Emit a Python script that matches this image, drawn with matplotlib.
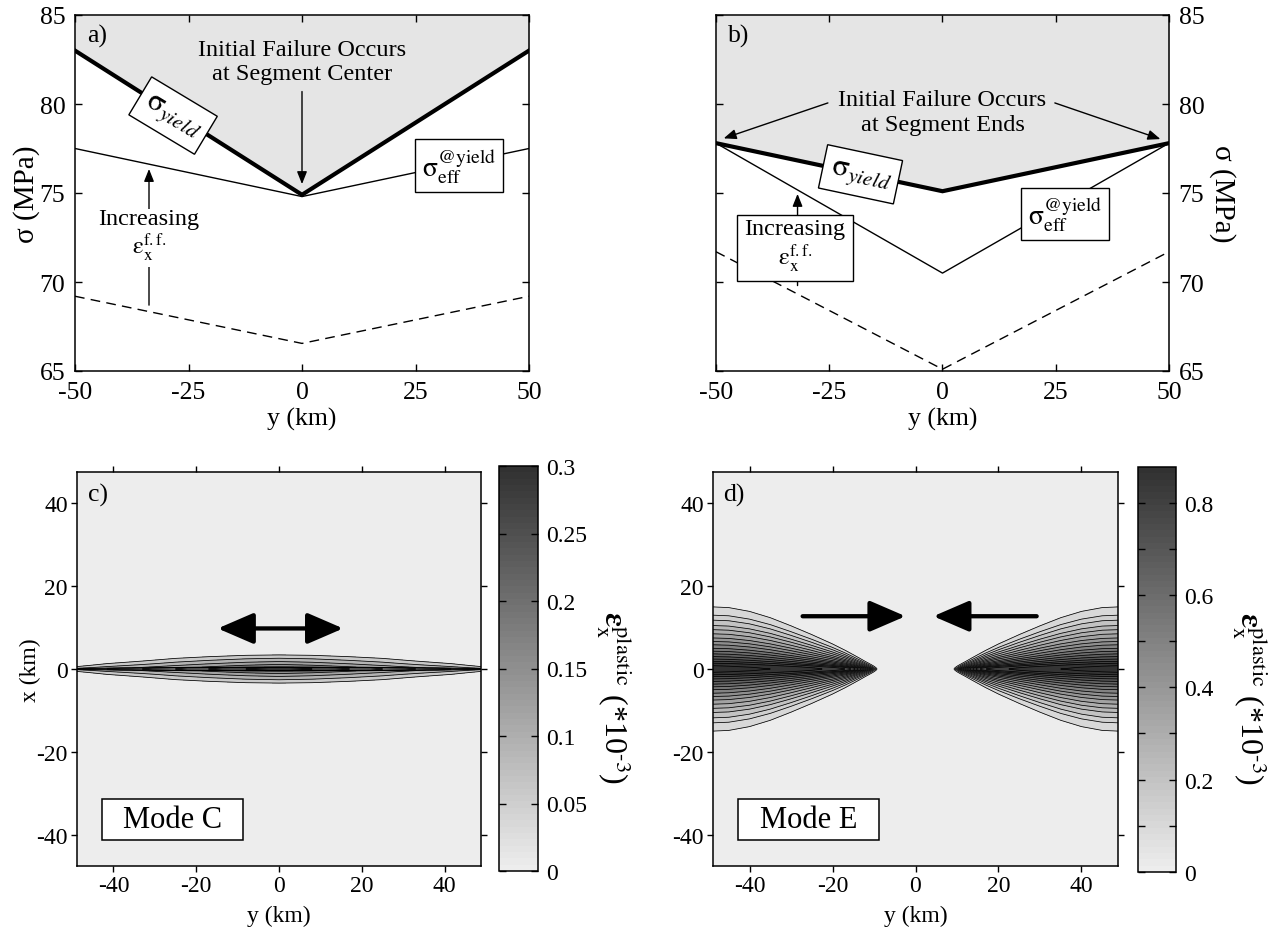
import matplotlib
matplotlib.use('Agg')
import matplotlib.pyplot as plt
import numpy as np
from matplotlib.colors import LinearSegmentedColormap, Normalize
from matplotlib.patches import FancyArrowPatch, Rectangle
from matplotlib.cm import ScalarMappable

plt.rcParams['font.family'] = ['Liberation Serif', 'DejaVu Serif']
plt.rcParams['mathtext.fontset'] = 'stix'
plt.rcParams['axes.unicode_minus'] = False

# --- panels a, b: stress along the segment (MPa) ---
seg_y = [-50, 0, 50]
a_yield = [83.0, 74.9, 83.0]
a_eff_yield = [77.5, 74.8, 77.5]
a_eff_start = [69.2, 66.55, 69.2]
b_yield = [77.8, 75.1, 77.8]
b_eff_yield = [77.8, 70.5, 77.8]
b_eff_start = [71.7, 65.1, 71.7]

# --- panel c: plastic strain, centreline value and lens width along |y| ---
c_y = [0, 8, 17, 25, 33, 41.6, 48.8]
c_peak = [0.29, 0.27, 0.24, 0.21, 0.18, 0.15, 0.125]
c_width = [1.0, 0.99, 0.92, 0.83, 0.66, 0.49, 0.25]
# cross-section at segment centre (distance from x=0 in km -> strain)
c_prof_dist = [0, 0.36, 0.42, 0.5, 1.1, 1.8, 2.6, 3.4, 4.6]
c_prof_val = [0.29, 0.275, 0.175, 0.15, 0.12, 0.09, 0.06, 0.03, 0.0]
c_levels = [0, 0.03, 0.06, 0.09, 0.12, 0.15, 0.18, 0.21, 0.24, 0.27, 0.3]

# --- panel d: plastic strain, centreline value and fan width along |y| ---
d_y = [0, 9, 11, 13, 15, 17, 20, 25, 30, 35, 40, 45, 48.8]
d_peak = [0, 0, 0.35, 0.55, 0.68, 0.75, 0.785, 0.815, 0.835, 0.85, 0.862, 0.872, 0.877]
d_width = [0, 0.04, 0.1, 0.17, 0.24, 0.31, 0.41, 0.56, 0.7, 0.83, 0.93, 0.99, 1.0]
# cross-section at segment end (distance from x=0 in km -> strain)
d_prof_dist = [0, 0.4, 0.8, 1.4, 1.85, 2.4, 3.0, 3.65, 4.3, 5.0, 5.85, 6.65,
               7.5, 8.5, 9.5, 10.5, 11.8, 13.0, 15.0, 18.0]
d_prof_val = [0.877, 0.868, 0.85, 0.8, 0.75, 0.7, 0.65, 0.6, 0.55, 0.5, 0.45, 0.4,
              0.35, 0.3, 0.25, 0.2, 0.15, 0.1, 0.05, 0.0]
d_levels = [0, 0.05, 0.1, 0.15, 0.2, 0.25, 0.3, 0.35, 0.4, 0.45, 0.5, 0.55,
            0.6, 0.65, 0.7, 0.75, 0.8, 0.85, 0.9]

W, H = 1281, 929
fig = plt.figure(figsize=(W / 100, H / 100), dpi=100)


def rect(x0, y0, x1, y1):
    # pixel box (top-left origin) -> figure fraction
    return [x0 / W, 1 - y1 / H, (x1 - x0) / W, (y1 - y0) / H]


ax_a = fig.add_axes(rect(75, 16, 529, 372))
ax_b = fig.add_axes(rect(716, 16, 1169, 372))
ax_c = fig.add_axes(rect(77, 473, 481, 867))
cax_c = fig.add_axes(rect(499, 467, 538, 872))
ax_d = fig.add_axes(rect(713, 473, 1118, 867))
cax_d = fig.add_axes(rect(1138, 468, 1176, 873))

fill_col = '#e5e5e5'


def arrow(ax, p0, p1, hl=7.5, hw=3.0, lw=1.0, style='-|>', z=3):
    ar = FancyArrowPatch(p0, p1, arrowstyle=f'{style},head_length={hl},head_width={hw}',
                         mutation_scale=1, lw=lw, color='k', shrinkA=0, shrinkB=0, zorder=z)
    ax.add_patch(ar)


def stress_panel(ax, yld, eff, eff0, label):
    ax.fill_between(seg_y, yld, 85, color=fill_col, lw=0, zorder=0)
    ax.plot(seg_y, yld, color='k', lw=3.0, zorder=2, solid_joinstyle='miter')
    ax.plot(seg_y, eff, color='k', lw=1.0, zorder=2)
    ax.plot(seg_y, eff0, color='k', lw=1.0, ls=(0, (7, 4.5)), zorder=2)
    ax.set_xlim(-50, 50)
    ax.set_ylim(65, 85)
    ax.set_xticks([-50, -25, 0, 25, 50])
    ax.set_yticks([65, 70, 75, 80, 85])
    ax.tick_params(direction='in', top=True, right=True, length=5, width=1.0,
                   labelsize=18.5, pad=7)
    for s in ax.spines.values():
        s.set_linewidth(1.1)
    ax.set_xlabel('y (km)', fontsize=18.5)
    ax.xaxis.set_label_coords(0.5, -0.132)
    ax.xaxis.label.set_verticalalignment('center')
    ax.text(0.026, 0.975, label, transform=ax.transAxes, fontsize=18.5,
            ha='left', va='top')


stress_panel(ax_a, a_yield, a_eff_yield, a_eff_start, 'a)')
stress_panel(ax_b, b_yield, b_eff_yield, b_eff_start, 'b)')

sig_yield = r'$\mathrm{\sigma}_{\mathit{yield}}$'
sig_eff = r'$\mathrm{\sigma}_{\mathrm{eff}}^{\mathrm{@yield}}$'
incr = 'Increasing\n' + r'$\mathrm{\epsilon}_{\mathrm{x}}^{\mathrm{f.f.}}$'
box = dict(boxstyle='square,pad=0.25', fc='white', ec='black', lw=1.0)

# panel a annotations
ax_a.set_ylabel('σ (MPa)', fontsize=21)
ax_a.yaxis.set_label_coords(-0.106, 0.5)
ax_a.yaxis.label.set_verticalalignment('center')
ax_a.text(0, 82.4, 'Initial Failure Occurs\nat Segment Center', fontsize=17.5,
          ha='center', va='center', linespacing=1.2, zorder=4)
arrow(ax_a, (0, 80.7), (0, 75.5))
ax_a.text(-28.4, 79.35, sig_yield, fontsize=22, rotation=-31, ha='center',
          va='center', rotation_mode='anchor', bbox=box, zorder=4)
ax_a.text(34.6, 76.55, sig_eff, fontsize=20, ha='center', va='center',
          bbox=box, zorder=4)
arrow(ax_a, (-33.7, 68.7), (-33.7, 76.35))
ax_a.text(-33.7, 72.6, incr, fontsize=17.5, ha='center', va='center', linespacing=1.1,
          bbox=dict(boxstyle='square,pad=0.15', fc='white', ec='none'), zorder=4)

# panel b annotations
ax_b.tick_params(labelleft=False, labelright=True)
ax_b.yaxis.set_label_position('right')
ax_b.set_ylabel('σ (MPa)', fontsize=21, rotation=270)
ax_b.yaxis.set_label_coords(1.117, 0.5)
ax_b.yaxis.label.set_verticalalignment('center')
ax_b.text(0, 79.55, 'Initial Failure Occurs\nat Segment Ends', fontsize=17.5,
          ha='center', va='center', linespacing=1.2, zorder=4)
arrow(ax_b, (-25.3, 80.06), (-48.3, 78.07))
arrow(ax_b, (24.8, 80.06), (48.1, 78.03))
ax_b.text(-18.1, 76.05, sig_yield, fontsize=22, rotation=-12, ha='center',
          va='center', rotation_mode='anchor', bbox=box, zorder=4)
ax_b.text(27.1, 73.82, sig_eff, fontsize=20, ha='center', va='center',
          bbox=box, zorder=4)
arrow(ax_b, (-32.0, 69.8), (-32.0, 74.95))
ax_b.text(-32.6, 72.03, incr, fontsize=17.5, ha='center', va='center', linespacing=1.1,
          bbox=dict(boxstyle='square,pad=0.3', fc='white', ec='black', lw=1.0), zorder=4)

# --- strain maps ---
cmap = LinearSegmentedColormap.from_list('strain', ['#ededed', '#313131'], N=64)
yy = np.linspace(-48.8, 48.8, 801)
xx = np.linspace(-47.6, 47.6, 1905)
YY, XX = np.meshgrid(yy, xx)
ay = np.abs(YY)

pk = np.interp(ay, c_y, c_peak)
wd = np.interp(ay, c_y, c_width)
Zc = pk / c_prof_val[0] * np.interp(np.abs(XX) / wd, c_prof_dist, c_prof_val)

pk = np.interp(ay, d_y, d_peak)
wd = np.interp(ay, d_y, d_width)
Zd = pk / d_prof_val[0] * np.interp(np.abs(XX) / np.maximum(wd, 1e-6), d_prof_dist, d_prof_val)


def strain_panel(ax, cax, Z, levels, vmax, label, mode, ticks, ticklabels, minor=None):
    norm = Normalize(0, vmax, clip=True)
    ax.set_facecolor(cmap(0))
    band_cols = [cmap(0)] + [cmap(norm(v)) for v in levels[2:]]
    ax.contourf(YY, XX, Z, levels=levels, colors=band_cols)
    ax.contour(YY, XX, Z, levels=levels[1:-1], colors='k', linewidths=0.55)
    ax.set_xlim(-48.8, 48.8)
    ax.set_ylim(-47.6, 47.6)
    ax.set_xticks([-40, -20, 0, 20, 40])
    ax.set_yticks([-40, -20, 0, 20, 40])
    ax.tick_params(direction='out', top=True, right=True, length=4, width=1.0,
                   labelsize=17, pad=2.5)
    for s in ax.spines.values():
        s.set_linewidth(1.1)
    ax.set_xlabel('y (km)', fontsize=17)
    ax.xaxis.set_label_coords(0.5, -0.126)
    ax.xaxis.label.set_verticalalignment('center')
    ax.text(0.026, 0.972, label, transform=ax.transAxes, fontsize=18.5,
            ha='left', va='top')
    ax.add_patch(Rectangle((0.061, 0.065), 0.349, 0.105, transform=ax.transAxes,
                           fc='white', ec='black', lw=1.1, zorder=5))
    ax.text(0.2355, 0.1175, mode, transform=ax.transAxes, fontsize=22,
            ha='center', va='center', zorder=6)

    cb = fig.colorbar(ScalarMappable(norm=Normalize(0, vmax), cmap=cmap), cax=cax)
    cb.set_ticks(ticks)
    cb.set_ticklabels(ticklabels)
    if minor is not None:
        cb.ax.set_yticks(minor, minor=True)
    cb.ax.tick_params(which='both', direction='in', left=True, right=True,
                      length=5, width=1.0, labelsize=17, pad=6)
    cb.outline.set_linewidth(1.1)
    cb.ax.set_ylabel(r'$\mathbf{\epsilon}_{\mathrm{x}}^{\mathrm{plastic}}$ (*10$^{\text{-3}}$)',
                     fontsize=23, rotation=270)
    cb.ax.yaxis.set_label_coords(2.95, 0.43)
    cb.ax.yaxis.label.set_verticalalignment('center')


strain_panel(ax_c, cax_c, Zc, c_levels, 0.3, 'c)', 'Mode C',
             [0, 0.05, 0.1, 0.15, 0.2, 0.25, 0.3],
             ['0', '0.05', '0.1', '0.15', '0.2', '0.25', '0.3'])
strain_panel(ax_d, cax_d, Zd, d_levels, 0.877, 'd)', 'Mode E',
             [0, 0.2, 0.4, 0.6, 0.8], ['0', '0.2', '0.4', '0.6', '0.8'],
             minor=[0.1, 0.3, 0.5, 0.7])
ax_c.set_ylabel('x (km)', fontsize=17)
ax_c.yaxis.set_label_coords(-0.115, 0.5)
ax_c.yaxis.label.set_verticalalignment('center')

# extension / compression arrows
arrow(ax_c, (-14.8, 9.8), (15.5, 9.8), hl=22, hw=9.5, lw=3.1, style='<|-|>', z=6)
arrow(ax_d, (-27.2, 12.75), (-2.4, 12.75), hl=22, hw=9.5, lw=3.1, z=6)
arrow(ax_d, (29.2, 12.75), (4.3, 12.75), hl=22, hw=9.5, lw=3.1, z=6)

fig.savefig('out.png', dpi=100)
